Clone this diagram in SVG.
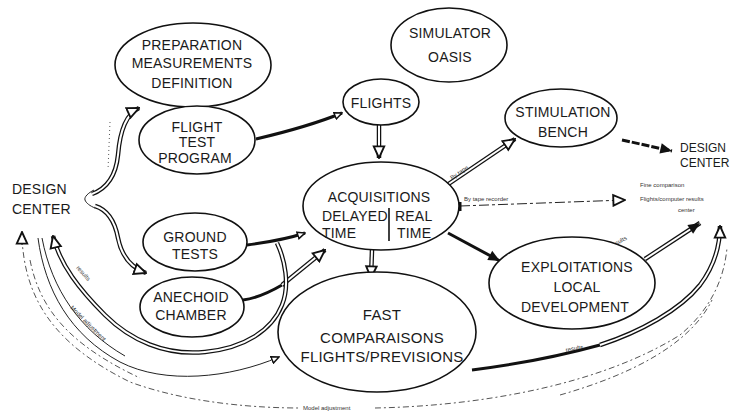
<svg xmlns="http://www.w3.org/2000/svg" width="732" height="417" viewBox="0 0 732 417">
<style>
.n{fill:#fff;stroke:#111;stroke-width:1.6}
.t{font-family:"Liberation Sans",Arial,sans-serif;font-size:14px;fill:#1a1a1a;text-anchor:middle;letter-spacing:0.2px}
.tl{font-family:"Liberation Sans",Arial,sans-serif;font-size:14px;fill:#1a1a1a;letter-spacing:0.2px}
.s{font-family:"Liberation Sans",Arial,sans-serif;font-size:6px;fill:#333}
.dblo{fill:none;stroke:#111;stroke-width:4.5}
.dbli{fill:none;stroke:#fff;stroke-width:2}
.th{fill:none;stroke:#111;stroke-width:3}
.tn{fill:none;stroke:#222;stroke-width:1}
.ds{fill:none;stroke:#555;stroke-width:1;stroke-dasharray:6 3 2 3}
.dt{fill:none;stroke:#555;stroke-width:1;stroke-dasharray:1 3}
</style>
<defs>
<marker id="open" markerUnits="userSpaceOnUse" markerWidth="14" markerHeight="14" viewBox="0 0 12 12" refX="11" refY="6" orient="auto">
<path d="M1,1.5 L11,6 L1,10.5 Z" fill="#fff" stroke="#111" stroke-width="1.6"/>
</marker>
<marker id="small" markerUnits="userSpaceOnUse" markerWidth="9" markerHeight="9" viewBox="0 0 12 12" refX="11" refY="6" orient="auto">
<path d="M1,1.5 L11,6 L1,10.5 Z" fill="#fff" stroke="#111" stroke-width="2"/>
</marker>
<marker id="fill" markerUnits="userSpaceOnUse" markerWidth="14" markerHeight="14" viewBox="0 0 12 12" refX="11" refY="6" orient="auto">
<path d="M1,1.5 L11,6 L1,10.5 Z" fill="#111"/>
</marker>
</defs>

<g id="connectors">
<!-- left design center bracket -->
<path class="tn" d="M94,190 C88,193 84,197 85,200 C86,203 90,206 95,208" stroke-width="1.5"/>
<path class="dblo" d="M92,194 C108,188 116,175 118,155 C120,130 126,114 139,108"/>
<path class="dbli" d="M92,194 C108,188 116,175 118,155 C120,130 126,114 139,108" marker-end="url(#open)"/>
<path class="dblo" d="M95,206 C108,210 115,222 118,238 C122,258 132,268 146,273"/>
<path class="dbli" d="M95,206 C108,210 115,222 118,238 C122,258 132,268 146,273" marker-end="url(#open)"/>
<path class="dt" d="M110,122 L108,170"/>

<!-- flight test program -> flights -->
<path class="th" d="M256,139 C290,131 320,122 342,113" marker-end="url(#small)"/>
<!-- flights -> acquisitions -->
<path class="dblo" d="M379,125 L379,158"/>
<path class="dbli" d="M379,125 L379,158" marker-end="url(#open)"/>
<!-- acquisitions -> stimulation bench -->
<path class="dblo" d="M447,185 L515,139" stroke-width="3.5"/>
<path class="dbli" d="M447,185 L515,139" stroke-width="1.5" marker-end="url(#open)"/>
<text class="s" transform="translate(452,180) rotate(-34)">By tape</text>
<!-- stimulation bench -> design center right -->
<path class="th" d="M622,140 L672,151" stroke-dasharray="8 2" stroke-width="2.5" marker-end="url(#fill)"/>
<!-- acquisitions -> fine comparison -->
<path class="tn" d="M460,206 L625,200" stroke-dasharray="10 3 3 3" marker-end="url(#open)"/>
<path d="M460,202 L460,211" stroke="#111" stroke-width="3"/>
<text class="s" x="464" y="201">By tape recorder</text>
<!-- acquisitions -> exploitations -->
<path class="th" d="M448,233 L500,261" stroke-width="4" marker-end="url(#fill)"/>
<!-- exploitations -> design center right -->
<path class="dblo" d="M645,259 L700,223" stroke-width="3.5"/>
<path class="dbli" d="M645,259 L700,223" stroke-width="1.5" marker-end="url(#fill)"/>
<text class="s" transform="translate(612,248) rotate(-30)">results</text>
<!-- ground tests -> acquisitions -->
<path class="th" d="M247,245 C270,242 290,238 305,233" marker-end="url(#small)"/>
<!-- anechoid chamber -> acquisitions -->
<path class="th" d="M243,300 C258,298 270,292 282,285"/>
<path class="dblo" d="M282,285 L325,250" stroke-width="3.5"/>
<path class="dbli" d="M282,285 L325,250" stroke-width="1.5" marker-end="url(#open)"/>
<!-- acquisitions -> fast comparaisons -->
<path class="dblo" d="M372,250 L371,278"/>
<path class="dbli" d="M372,250 L371,278" marker-end="url(#open)"/>

<!-- results loop back to left design center -->
<path class="dblo" d="M277,243 C285,260 290,285 282,305 C272,330 245,348 205,352 C165,356 130,340 105,315 C80,290 60,265 53,236" stroke-width="3.5"/>
<path class="dbli" d="M277,243 C285,260 290,285 282,305 C272,330 245,348 205,352 C165,356 130,340 105,315 C80,290 60,265 53,236" stroke-width="1.5" marker-end="url(#open)"/>
<text class="s" transform="translate(76,268) rotate(48)">results</text>
<!-- model adjustment from left into fast comparaisons -->
<path class="tn" d="M38,238 C45,290 70,335 120,362 C165,385 230,378 279,357" stroke-width="1.5" marker-end="url(#small)"/>
<path class="tn" d="M42,238 C52,290 80,330 125,356" stroke="#777"/>
<text class="s" transform="translate(70,308) rotate(45)">Model adjustment</text>

<!-- fast comparaisons -> right design center -->
<path class="th" d="M472,370 C520,364 560,356 600,345" stroke-width="3"/>
<path class="dblo" d="M600,345 C640,332 680,310 700,285 C715,265 720,245 720,226" stroke-width="3.5"/>
<path class="dbli" d="M600,345 C640,332 680,310 700,285 C715,265 720,245 720,226" stroke-width="1.5" marker-end="url(#open)"/>
<text class="s" x="566" y="352" transform="rotate(-10 566 352)">results</text>

<!-- outer model adjustment dashed loop -->
<path class="ds" d="M22,238 C25,300 55,345 130,382 C190,404 260,408 300,408"/>
<path class="ds" d="M30,260 C40,310 70,345 140,378"/>
<path class="ds" d="M375,408 C480,406 600,385 680,335 C710,310 724,280 727,248"/>
<path class="ds" d="M560,395 C630,375 690,345 712,300"/>
<path class="tn" d="M22,245 L22,232" marker-end="url(#open)"/>
<text class="s" x="303" y="410">Model adjustment</text>
</g>

<g id="preparation">
<ellipse class="n" cx="193" cy="65" rx="78" ry="42"/>
<text class="t" x="192" y="50">PREPARATION</text>
<text class="t" x="192" y="68">MEASUREMENTS</text>
<text class="t" x="192" y="88">DEFINITION</text>
</g>
<g id="flight-test-program">
<ellipse class="n" cx="197" cy="140" rx="58" ry="34"/>
<text class="t" x="197" y="132">FLIGHT</text>
<text class="t" x="197" y="147">TEST</text>
<text class="t" x="195" y="163">PROGRAM</text>
</g>
<g id="simulator-oasis">
<ellipse class="n" cx="449" cy="45" rx="58" ry="37"/>
<text class="t" x="450" y="38">SIMULATOR</text>
<text class="t" x="450" y="62">OASIS</text>
</g>
<g id="flights">
<ellipse class="n" cx="381" cy="102" rx="38" ry="23"/>
<text class="t" x="381" y="108">FLIGHTS</text>
</g>
<g id="stimulation-bench">
<ellipse class="n" cx="561" cy="118" rx="56" ry="29"/>
<text class="t" x="563" y="117">STIMULATION</text>
<text class="t" x="563" y="137">BENCH</text>
</g>
<g id="design-center-right">
<text class="tl" x="680" y="152" style="font-size:12px;letter-spacing:0">DESIGN</text>
<text class="tl" x="680" y="167" style="font-size:12px;letter-spacing:0">CENTER</text>
</g>
<g id="fine-comparison">
<text class="s" x="640" y="187">Fine comparison</text>
<text class="s" x="640" y="201">Flights/computer results</text>
<text class="s" x="678" y="212">center</text>
</g>
<g id="acquisitions">
<ellipse class="n" cx="381" cy="206" rx="78" ry="44"/>
<text class="t" x="379" y="202">ACQUISITIONS</text>
<text class="tl" x="322" y="221">DELAYED</text>
<text class="tl" x="395" y="221">REAL</text>
<text class="tl" x="322" y="238">TIME</text>
<text class="tl" x="397" y="238">TIME</text>
<path d="M389,208 L389,241" stroke="#111" stroke-width="1.6"/>
</g>
<g id="ground-tests">
<ellipse class="n" cx="195" cy="242" rx="52" ry="29"/>
<text class="t" x="195" y="242">GROUND</text>
<text class="t" x="195" y="259">TESTS</text>
</g>
<g id="anechoid-chamber">
<ellipse class="n" cx="192" cy="307" rx="52" ry="30"/>
<text class="t" x="191" y="302">ANECHOID</text>
<text class="t" x="191" y="320">CHAMBER</text>
</g>
<g id="fast-comparaisons">
<ellipse class="n" cx="377" cy="332" rx="99" ry="60"/>
<text class="t" x="382" y="320" style="font-size:15px">FAST</text>
<text class="t" x="382" y="343" style="font-size:15px">COMPARAISONS</text>
<text class="t" x="382" y="362" style="font-size:15px">FLIGHTS/PREVISIONS</text>
</g>
<g id="exploitations">
<ellipse class="n" cx="572" cy="283" rx="83" ry="46"/>
<text class="t" x="577" y="272">EXPLOITATIONS</text>
<text class="t" x="577" y="292">LOCAL</text>
<text class="t" x="575" y="312">DEVELOPMENT</text>
</g>
<g id="design-center-left">
<text class="tl" x="12" y="194">DESIGN</text>
<text class="tl" x="12" y="214">CENTER</text>
</g>
</svg>
